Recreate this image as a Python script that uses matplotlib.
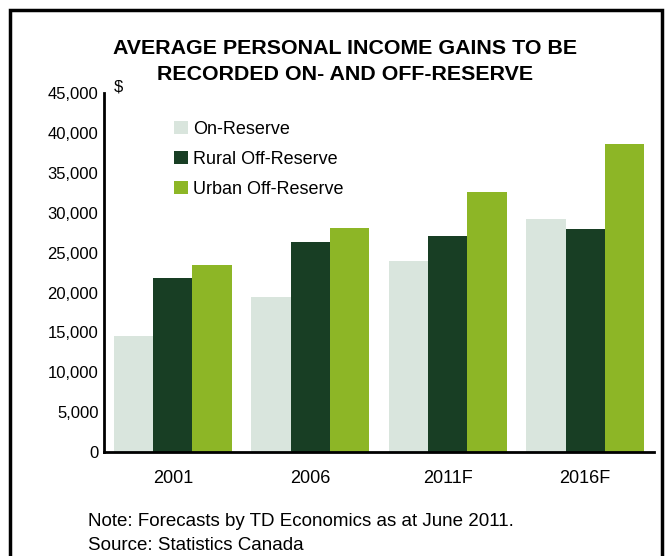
import matplotlib
matplotlib.use("Agg")
import matplotlib.pyplot as plt
import numpy as np
from matplotlib.patches import Rectangle

plt.rcParams['font.family'] = ['Liberation Sans', 'DejaVu Sans']

# data
years = ['2001', '2006', '2011F', '2016F']
on_reserve = [14500, 19500, 24000, 29200]
rural_off = [21800, 26300, 27100, 28000]
urban_off = [23500, 28100, 32600, 38600]
series_names = ['On-Reserve', 'Rural Off-Reserve', 'Urban Off-Reserve']
colors = ['#d9e5dd', '#183e24', '#8db626']
yticks = np.arange(0, 45001, 5000)

fig = plt.figure(figsize=(6.66, 5.56), dpi=100)
ax = fig.add_axes([104/666, 1-452/556, 550/666, (452-93.3)/556])

x = np.arange(len(years))
w = 0.287
for i, (vals, name, c) in enumerate(zip([on_reserve, rural_off, urban_off], series_names, colors)):
    ax.bar(x + (i-1)*w, vals, w, color=c, label=name, linewidth=0)

ax.set_xlim(-0.5, 3.5)
ax.set_ylim(0, 45000)
ax.set_yticks(yticks)
ax.set_yticklabels([f'{v:,}' for v in yticks])
ax.set_xticks(x)
ax.set_xticklabels(years)
ax.tick_params(axis='both', length=0)
ax.tick_params(axis='y', pad=4, labelsize=12)
ax.tick_params(axis='x', pad=13, labelsize=13)
for s in ['top', 'right']:
    ax.spines[s].set_visible(False)
for s in ['left', 'bottom']:
    ax.spines[s].set_linewidth(2)

leg = ax.legend(loc='upper left', bbox_to_anchor=(174/666, 1-121/556),
                bbox_transform=fig.transFigure, frameon=False, fontsize=13,
                handlelength=0.75, handleheight=0.75, handletextpad=0.3,
                labelspacing=0.72, borderaxespad=0, borderpad=0)

fig.text(345/666, 1-48/556, 'AVERAGE PERSONAL INCOME GAINS TO BE', ha='center', va='center',
         fontsize=15.4, fontweight='bold')
fig.text(345/666, 1-75/556, 'RECORDED ON- AND OFF-RESERVE', ha='center', va='center',
         fontsize=15.4, fontweight='bold')
fig.text(114/666, 1-87/556, '$', ha='left', va='center', fontsize=12)

fig.text(88/666, 1-521/556, 'Note: Forecasts by TD Economics as at June 2011.', ha='left',
         va='center', fontsize=13.5)
fig.text(88/666, 1-545/556, 'Source: Statistics Canada', ha='left', va='center', fontsize=13.5)

# outer frame, bottom edge runs off the picture
fig.patches.append(Rectangle((10/666, -0.05), 652/666, 1.05 - 10/556, transform=fig.transFigure,
                             fill=False, edgecolor='black', linewidth=2.5))

fig.savefig('out.png', dpi=100)
